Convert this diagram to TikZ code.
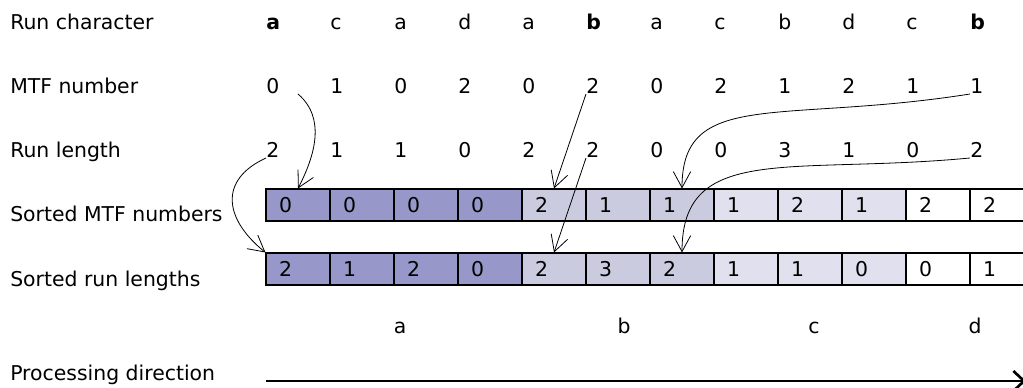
\documentclass[tikz,border=0pt]{standalone}
\usepackage{fontspec}
\setmainfont{DejaVu Sans}
\usetikzlibrary{arrows.meta}

\definecolor{grpa}{RGB}{151,151,201}
\definecolor{grpb}{RGB}{203,203,224}
\definecolor{grpc}{RGB}{224,224,239}

\tikzset{
  txt/.style={anchor=base west, inner sep=0pt},
  cell/.style={draw, line width=0.8pt, minimum width=48pt, minimum height=24pt, inner sep=0pt},
  move/.style={-{Straight Barb[length=12pt,width=13pt]}, line width=0.6pt},
}
\newcommand{\cellnum}[1]{\makebox[48pt][l]{\hspace{9.75pt}#1}}

\begin{document}
\begin{tikzpicture}[x=0.75pt, y=-0.75pt, font=\fontsize{15.3}{18}\selectfont]
		\useasboundingbox (0,0) rectangle (1023,388);

		% row labels
		\node[txt] (lchar) at (10,30) {Run character};
		\node[txt] (lmtf) at (10,94) {MTF number};
		\node[txt] (llen) at (10,158) {Run length};
		\node[txt] (lsmtf) at (10,222) {Sorted MTF numbers};
		\node[txt] (lslen) at (10,286) {Sorted run lengths};
		\node[txt] (ldir) at (10,380) {Processing direction};

		% input runs
		\foreach \c [count=\i] in {\textbf{a},c,a,d,a,\textbf{b},a,c,b,d,c,\textbf{b}}
			\node[txt] (ch\i) at ({266+64*(\i-1)},30) {\c};
		\foreach \n [count=\i] in {0,1,0,2,0,2,0,2,1,2,1,1}
			\node[txt] (mtf\i) at ({266+64*(\i-1)},94) {\n};
		\foreach \n [count=\i] in {2,1,1,0,2,2,0,0,3,1,0,2}
			\node[txt] (len\i) at ({266+64*(\i-1)},158) {\n};

		% sorted runs, shaded by character
		\foreach \n/\col [count=\i] in {0/grpa,0/grpa,0/grpa,0/grpa,2/grpb,1/grpb,1/grpb,1/grpc,2/grpc,1/grpc,2/white,2/white}
			\node[cell, fill=\col] (smtf\i) at ({298+64*(\i-1)},205) {\cellnum{\n}};
		\foreach \n/\col [count=\i] in {2/grpa,1/grpa,2/grpa,0/grpa,2/grpb,3/grpb,2/grpb,1/grpc,1/grpc,0/grpc,0/white,1/white}
			\node[cell, fill=\col] (slen\i) at ({298+64*(\i-1)},269) {\cellnum{\n}};

		\node[anchor=base] (ga) at (400,333) {a};
		\node[anchor=base] (gb) at (624,333) {b};
		\node[anchor=base] (gc) at (814,333) {c};
		\node[anchor=base] (gd) at (975,333) {d};

		% where the runs end up
		\draw[move] ([xshift=24pt]mtf1.base west) .. controls +(28,24) and +(17,-33) .. (smtf1.north);
		\draw[move] (len1.base west) .. controls +(-48,22) and +(-41,-33) .. (slen1.north west);
		\draw[move] (mtf6.base west) -- (smtf5.north);
		\draw[move] (len6.base west) -- (slen5.north);
		\draw[move] (mtf12.base west) .. controls +(-190,30) and +(0,-100) .. (smtf7.north);
		\draw[move] (len12.base west) .. controls +(-180,17) and +(0,-110) .. (slen7.north);

		\coordinate (pstart) at (266,381);
		\coordinate (pend) at (1026,381);
		\draw[line width=2pt, -{Straight Barb[length=8pt,width=15pt]}] (pstart) -- (pend);
\end{tikzpicture}
\end{document}
